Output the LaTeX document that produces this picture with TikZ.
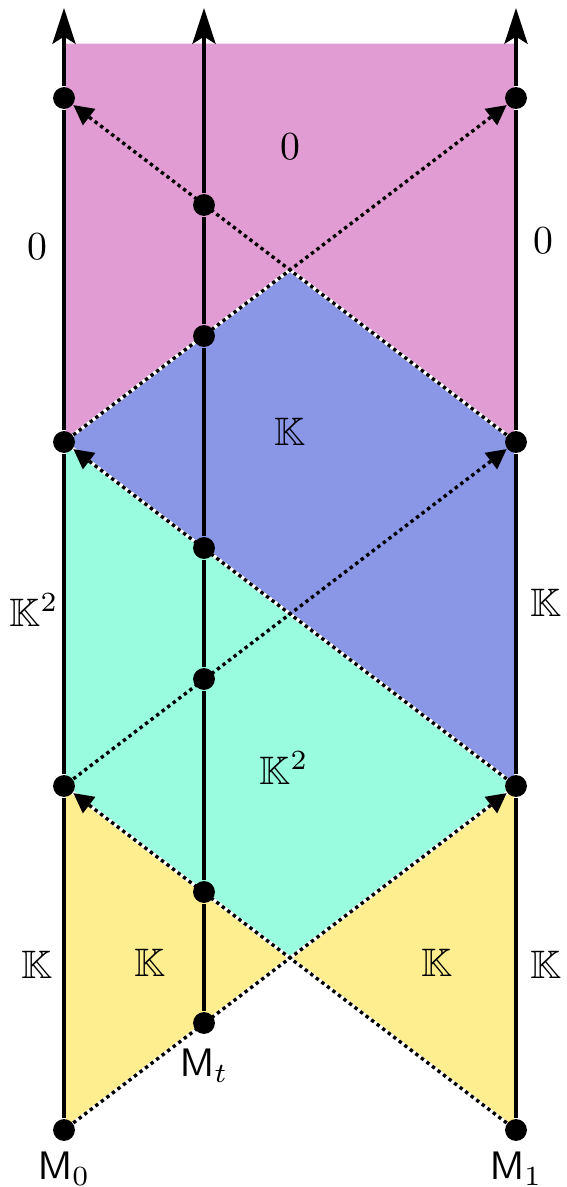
\documentclass[tikz,border=0pt]{standalone}
\usepackage{amsmath}
\usepackage{amssymb}
\usetikzlibrary{arrows.meta,positioning,backgrounds}

\definecolor{regpink}{HTML}{E19DD3}
\definecolor{regblue}{HTML}{8A96E6}
\definecolor{regcyan}{HTML}{9AFCDE}
\definecolor{regyellow}{HTML}{FFEE90}

\begin{document}
\begin{tikzpicture}[x=0.00885cm, y=-0.00885cm,
        dot/.style={circle, fill=black, inner sep=0pt, minimum size=5.5pt},
        timeline/.style={line width=1pt, -{Stealth[length=9pt,width=5.8pt,inset=1.8pt]}},
        flow/.style={line width=0.85pt, dash pattern=on 0.85pt off 0.9pt, -{Triangle[length=5pt,width=5pt]}},
        region/.style={draw=white, line width=0.85pt}]
        \useasboundingbox (0,0) rectangle (566,1187);

        % Dots on the three lines
        \node[dot] (l0) at (64,1130) {};
        \node[dot] (l1) at (64,786) {};
        \node[dot] (l2) at (64,442) {};
        \node[dot] (l3) at (64,98) {};
        \node[dot] (r0) at (516,1130) {};
        \node[dot] (r1) at (516,786) {};
        \node[dot] (r2) at (516,442) {};
        \node[dot] (r3) at (516,98) {};
        \node[dot] (m0) at (204,1023) {};
        \node[dot] (m1) at (204,892) {};
        \node[dot] (m2) at (204,679) {};
        \node[dot] (m3) at (204,548) {};
        \node[dot] (m4) at (204,336) {};
        \node[dot] (m5) at (204,205) {};
        \coordinate (ltop) at (64,8);
        \coordinate (mtop) at (204,8);
        \coordinate (rtop) at (516,8);

        % Coloured regions
        \begin{scope}[on background layer]
            \fill[regpink, region] (64,42) -- (516,42) -- (516,442) -- (290,270) -- (64,442) -- cycle;
            \fill[regblue, region] (64,442) -- (290,270) -- (516,442) -- (516,786) -- cycle;
            \fill[regcyan, region] (64,442) -- (516,786) -- (290,958) -- (64,786) -- cycle;
            \fill[regyellow, region] (64,786) -- (290,958) -- (64,1130) -- cycle;
            \fill[regyellow, region] (516,786) -- (516,1130) -- (290,958) -- cycle;
        \end{scope}

        % Dotted arrows
        \draw[flow] (l0) -- (r1);
        \draw[flow] (r0) -- (l1);
        \draw[flow] (l1) -- (r2);
        \draw[flow] (r1) -- (l2);
        \draw[flow] (l2) -- (r3);
        \draw[flow] (r2) -- (l3);

        % Vertical lines
        \draw[timeline] (l0) -- (l1) -- (l2) -- (l3) -- (ltop);
        \draw[timeline] (m0) -- (m1) -- (m2) -- (m3) -- (m4) -- (m5) -- (mtop);
        \draw[timeline] (r0) -- (r1) -- (r2) -- (r3) -- (rtop);

        % Labels
        \node (zeroMid) at (290,147) {$0$};
        \node (zeroLeft) at (37,247) {$0$};
        \node (zeroRight) at (543,241) {$0$};
        \node (kMid) at (290,432) {$\mathbb{K}$};
        \node (kkLeft) at (34,610) {$\mathbb{K}^2$};
        \node (kRight) at (546,603) {$\mathbb{K}$};
        \node (kkMid) at (284,768) {$\mathbb{K}^2$};
        \node (kLeft) at (37,965) {$\mathbb{K}$};
        \node (kYellowL) at (150,963) {$\mathbb{K}$};
        \node (kYellowR) at (437,963) {$\mathbb{K}$};
        \node (kRightLow) at (546,965) {$\mathbb{K}$};
        \node[below=-1pt of l0] (lab0) {$\mathsf{M}_0$};
        \node[below=0pt of m0] (labt) {$\mathsf{M}_t$};
        \node[below=-1pt of r0] (lab1) {$\mathsf{M}_1$};
\end{tikzpicture}
\end{document}
